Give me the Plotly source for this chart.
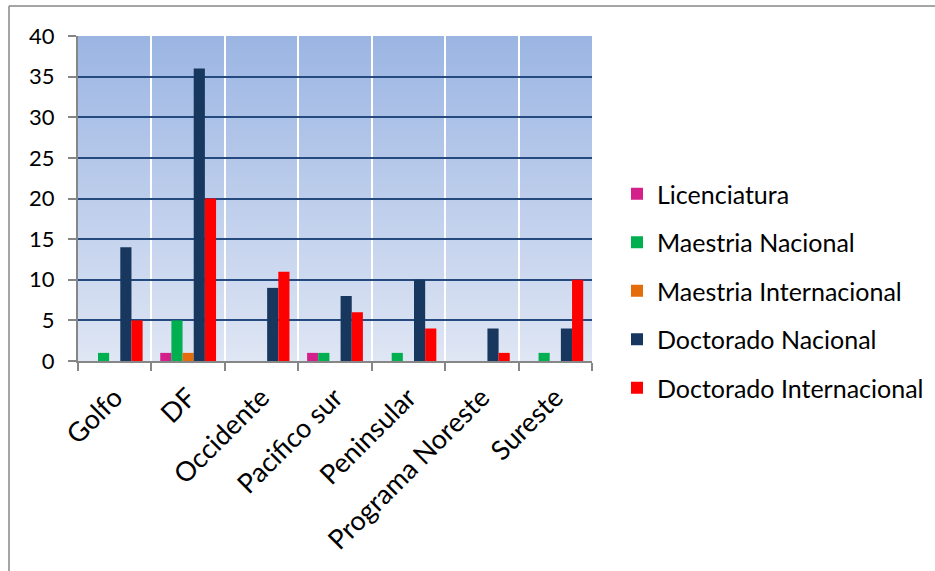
import base64
import plotly.graph_objects as go

categories = ["Golfo", "DF", "Occidente", "Pacifico sur", "Peninsular", "Programa Noreste", "Sureste"]
licenciatura = [0, 1, 0, 1, 0, 0, 0]
maestria_nacional = [1, 5, 0, 1, 1, 0, 1]
maestria_internacional = [0, 1, 0, 0, 0, 0, 0]
doctorado_nacional = [14, 36, 9, 8, 10, 4, 4]
doctorado_internacional = [5, 20, 11, 6, 4, 1, 10]
y_ticks = [0, 5, 10, 15, 20, 25, 30, 35, 40]

series = [
    ("Licenciatura", licenciatura, "#D3208A"),
    ("Maestria Nacional", maestria_nacional, "#00B050"),
    ("Maestria Internacional", maestria_internacional, "#E46C0A"),
    ("Doctorado Nacional", doctorado_nacional, "#17375E"),
    ("Doctorado Internacional", doctorado_internacional, "#FF0000"),
]

W, H = 935, 571
ML, MR, MT, MB = 78, 343, 36, 210
PW, PH = W - ML - MR, H - MT - MB

FONT = "Lato"

fig = go.Figure()
for i, (name, vals, col) in enumerate(series):
    fig.add_trace(go.Bar(
        x=categories, y=vals, name=name, marker=dict(color=col, line=dict(width=0)),
        legendgroup=f"g{i}",
    ))

svg = ('<svg xmlns="http://www.w3.org/2000/svg" width="100" height="100" preserveAspectRatio="none">'
       '<defs><linearGradient id="g" x1="0" y1="0" x2="0" y2="1">'
       '<stop offset="0" stop-color="#9BB5E3"/><stop offset="1" stop-color="#DFE6F4"/>'
       '</linearGradient></defs><rect width="100" height="100" fill="url(#g)"/></svg>')
src = "data:image/svg+xml;base64," + base64.b64encode(svg.encode()).decode()

def px_x(p):
    return (p - ML) / PW

def px_y(p):
    return 1 - (p - MT) / PH

fig.update_layout(
    width=W, height=H,
    margin=dict(l=ML, r=MR, t=MT, b=MB, autoexpand=False),
    paper_bgcolor="white",
    plot_bgcolor="rgba(0,0,0,0)",
    barmode="group",
    bargap=0.24,
    bargroupgap=0,
    font=dict(family=FONT, size=22, color="#000000"),
    showlegend=True,
    legend=dict(
        x=px_x(617), xanchor="left",
        y=px_y(291), yanchor="middle",
        traceorder="grouped", tracegroupgap=13,
        font=dict(family=FONT, size=25, color="#000000"),
        bgcolor="rgba(0,0,0,0)",
    ),
    images=[dict(source=src, xref="paper", yref="paper", x=0, y=1, sizex=1, sizey=1,
                 sizing="stretch", layer="below")],
    shapes=[
        dict(type="line", xref="paper", yref="paper", x0=px_x(9), x1=px_x(W + 5),
             y0=px_y(6), y1=px_y(6), line=dict(color="#878787", width=1.5)),
        dict(type="line", xref="paper", yref="paper", x0=px_x(9), x1=px_x(9),
             y0=px_y(6), y1=px_y(H + 5), line=dict(color="#878787", width=1.5)),
    ],
)

fig.update_xaxes(
    type="category",
    tickson="boundaries",
    showgrid=True, gridcolor="#FFFFFF", gridwidth=2,
    ticks="outside", ticklen=8, tickcolor="#868686", tickwidth=2,
    showline=True, linecolor="#868686", linewidth=2,
    tickangle=-45,
    ticklabelstandoff=8,
    tickfont=dict(family=FONT, size=27, color="#000000"),
    zeroline=False,
    automargin=False,
)
fig.update_yaxes(
    range=[0, 40],
    tickvals=y_ticks,
    ticktext=[str(v) for v in y_ticks],
    showgrid=True, gridcolor="#244A80", gridwidth=2,
    ticks="outside", ticklen=8, tickcolor="#868686", tickwidth=2,
    showline=True, linecolor="#868686", linewidth=2,
    ticklabelstandoff=9,
    tickfont=dict(family=FONT, size=22, color="#000000"),
    zeroline=False,
    automargin=False,
)

fig.write_html("out.html")
